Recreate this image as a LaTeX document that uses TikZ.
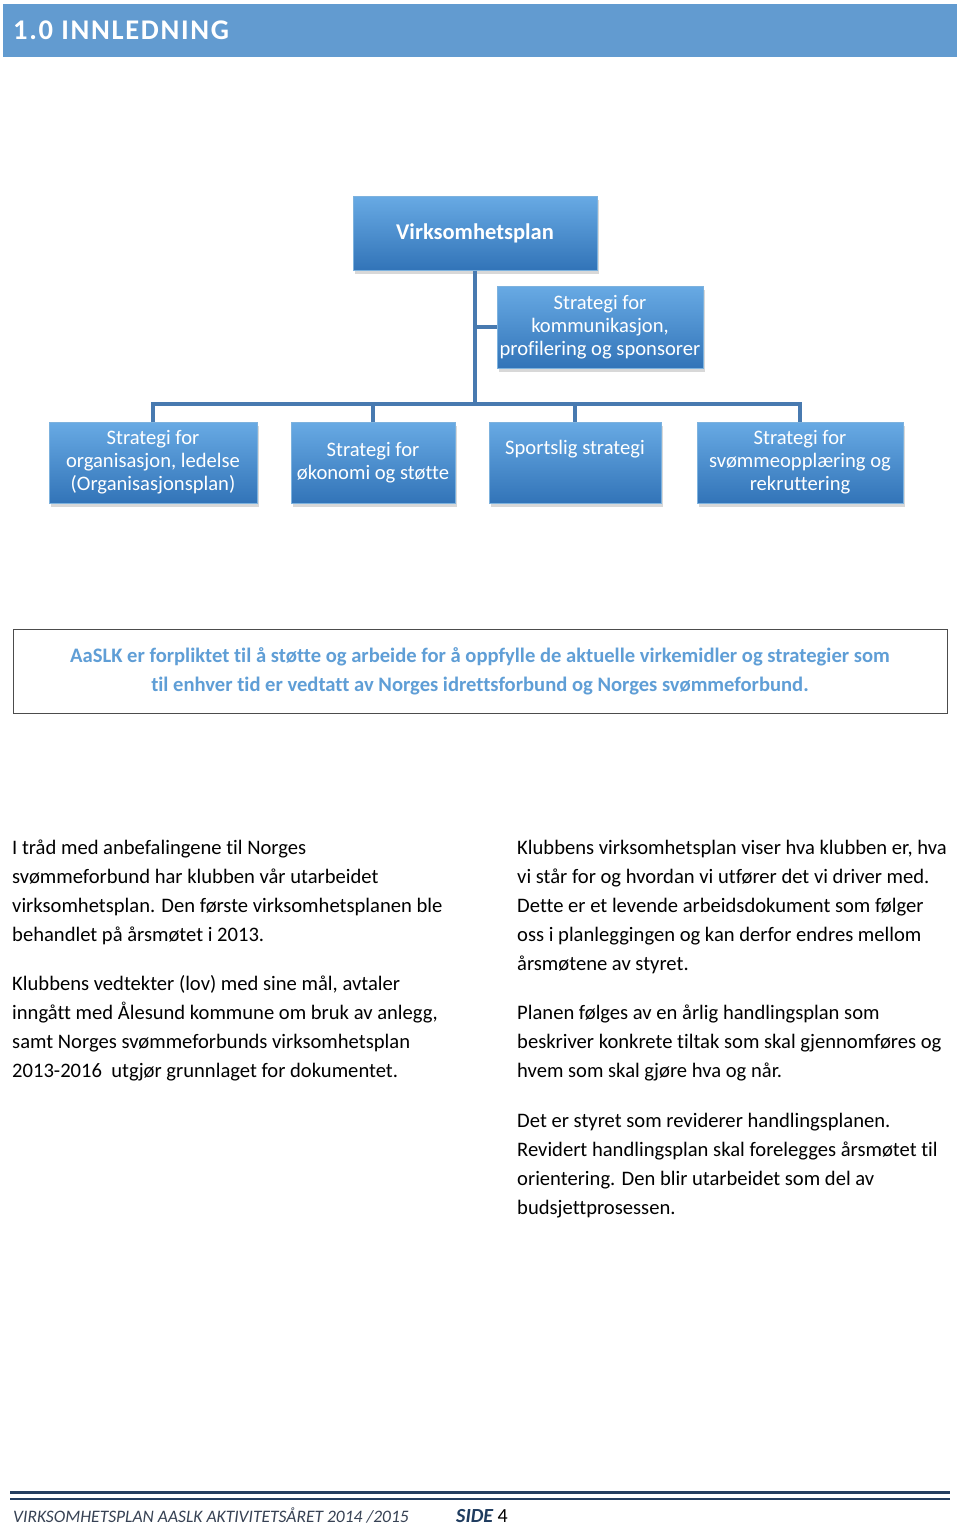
\documentclass[tikz,border=0pt]{standalone}
\usepackage{fontspec}
\setmainfont{Carlito}[RawFeature=-liga]
\usetikzlibrary{shadows}
\definecolor{hdr}{RGB}{98,155,208}
\definecolor{boxtop}{RGB}{104,170,228}
\definecolor{boxbot}{RGB}{50,116,184}
\definecolor{boxedge}{RGB}{125,178,222}
\definecolor{connc}{RGB}{72,122,176}
\definecolor{infoblue}{RGB}{95,158,214}
\definecolor{footline}{RGB}{36,62,96}
\definecolor{foottext}{RGB}{55,66,84}
\definecolor{sideblue}{RGB}{31,60,95}
\begin{document}
\begin{tikzpicture}[x=1pt,y=-1pt,
  orgbox/.style={rectangle, draw=boxedge, line width=1pt, top color=boxtop, bottom color=boxbot,
    text=white, align=center, inner sep=0pt,
    drop shadow={shadow xshift=2pt, shadow yshift=-4pt, opacity=0.3}},
  boxfont/.style={font=\fontsize{20.6}{23}\selectfont},
  connline/.style={draw=connc, line width=4.5pt},
  body/.style={anchor=base west, inner sep=0pt, font=\fontsize{20.6}{29}\selectfont},
]
\useasboundingbox (0,0) rectangle (960,1531);
\fill[white] (0,0) rectangle (960,1531);

% header
\node[rectangle, fill=hdr, minimum width=954pt, minimum height=53pt, inner sep=0pt] (hdr) at (480,30.5) {};
\node[anchor=base west, inner sep=0pt, text=white, font=\fontsize{28.5}{30}\bfseries\addfontfeature{LetterSpace=6}] (title) at (13,39) {1.0 INNLEDNING};

% org chart
\node[orgbox, minimum width=244pt, minimum height=74pt, font=\fontsize{22.5}{24}\bfseries] (top) at (475,233) {Virksomhetsplan};
\node[orgbox, boxfont, minimum width=206pt, minimum height=82pt] (komm) at (600,327) {Strategi for\\kommunikasjon,\\profilering og sponsorer};
\node[orgbox, boxfont, minimum width=208pt, minimum height=81pt] (b1) at (153,462.5) {Strategi for\\organisasjon, ledelse\\(Organisasjonsplan)};
\node[orgbox, boxfont, minimum width=164pt, minimum height=81pt] (b2) at (373,462.5) {Strategi for\\økonomi og støtte};
\node[orgbox, boxfont, minimum width=172pt, minimum height=81pt] (b3) at (575,462.5) {Sportslig strategi\\\strut};
\node[orgbox, boxfont, minimum width=206pt, minimum height=81pt] (b4) at (800,462.5) {Strategi for\\svømmeopplæring og\\rekruttering};

\coordinate (bus) at (475,404);
\draw[connline] (top.south) -- (bus);
\draw[connline] (top.south |- komm.west) -- (komm.west);
\draw[connline] (b1.north) -- (b1.north |- bus) -- (b4.north |- bus) -- (b4.north);
\draw[connline] (b2.north) -- (b2.north |- bus);
\draw[connline] (b3.north) -- (b3.north |- bus);

% info box
\node[rectangle, draw=black!70, line width=1pt, minimum width=934pt, minimum height=84pt, inner sep=0pt,
  align=center, text=infoblue, font=\fontsize{20.6}{29}\bfseries] (info) at (480,671)
  {AaSLK er forpliktet til å støtte og arbeide for å oppfylle de aktuelle virkemidler og strategier som\\
   til enhver tid er vedtatt av Norges idrettsforbund og Norges svømmeforbund.};

% left column
\node[body] (l1) at (12,854) {I tråd med anbefalingene til Norges};
\node[body] (l2) at (12,883) {svømmeforbund har klubben vår utarbeidet};
\node[body] (l3) at (12,912) {virksomhetsplan. Den første virksomhetsplanen ble};
\node[body] (l4) at (12,941) {behandlet på årsmøtet i 2013.};
\node[body] (l5) at (12,990) {Klubbens vedtekter (lov) med sine mål, avtaler};
\node[body] (l6) at (12,1019) {inngått med Ålesund kommune om bruk av anlegg,};
\node[body] (l7) at (12,1048) {samt Norges svømmeforbunds virksomhetsplan};
\node[body] (l8) at (12,1077) {2013-2016\ \ utgjør grunnlaget for dokumentet.};

% right column
\node[body] (r1) at (517,854) {Klubbens virksomhetsplan viser hva klubben er, hva};
\node[body] (r2) at (517,883) {vi står for og hvordan vi utfører det vi driver med.};
\node[body] (r3) at (517,912) {Dette er et levende arbeidsdokument som følger};
\node[body] (r4) at (517,941) {oss i planleggingen og kan derfor endres mellom};
\node[body] (r5) at (517,970) {årsmøtene av styret.};
\node[body] (r6) at (517,1019) {Planen følges av en årlig handlingsplan som};
\node[body] (r7) at (517,1048) {beskriver konkrete tiltak som skal gjennomføres og};
\node[body] (r8) at (517,1077) {hvem som skal gjøre hva og når.};
\node[body] (r9) at (517,1127) {Det er styret som reviderer handlingsplanen.};
\node[body] (r10) at (517,1156) {Revidert handlingsplan skal forelegges årsmøtet til};
\node[body] (r11) at (517,1185) {orientering. Den blir utarbeidet som del av};
\node[body] (r12) at (517,1214) {budsjettprosessen.};

% footer
\coordinate (fl1a) at (10,1492.5);
\coordinate (fl1b) at (950,1492.5);
\coordinate (fl2a) at (10,1498.5);
\coordinate (fl2b) at (950,1498.5);
\draw[footline, line width=3.5pt] (fl1a) -- (fl1b);
\draw[footline, line width=2pt] (fl2a) -- (fl2b);
\node[anchor=base west, inner sep=0pt, text=foottext, font=\fontsize{17.5}{20}\itshape] (ft) at (13,1522)
  {VIRKSOMHETSPLAN AASLK AKTIVITETSÅRET 2014 /2015};
\node[anchor=base west, inner sep=0pt, font=\fontsize{20}{20}\selectfont] (side) at (456,1522)
  {\textcolor{sideblue}{\bfseries\itshape SIDE} 4};
\end{tikzpicture}
\end{document}
